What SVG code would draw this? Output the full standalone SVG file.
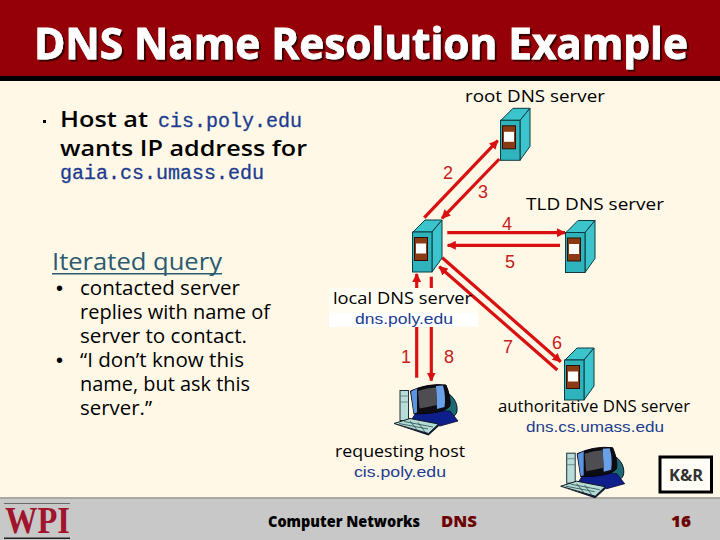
<svg xmlns="http://www.w3.org/2000/svg" width="720" height="540" viewBox="0 0 720 540">
<style>
text{font-family:"Open Sans","Lato","Liberation Sans",sans-serif;fill:#000}
.title{font-size:43px;font-weight:700;fill:#fff;stroke:#fff;stroke-width:.8px}
.lab{font-size:16.500px}
.blue{font-family:"Liberation Sans",sans-serif;font-size:14.500px;fill:#1d3c8f}
.mono{font-family:"Liberation Mono",monospace;font-size:20px;fill:#1d3c8f;stroke:#1d3c8f;stroke-width:.3px}
.body{font-size:22px;font-weight:600}
.list{font-size:19.500px}
.bullet{font-family:"Liberation Sans",sans-serif;font-size:20px}
.num{font-family:"Liberation Sans",sans-serif;font-size:18px;fill:#c62020;text-anchor:middle}
.foot{font-size:16px;font-weight:800}
.conn{stroke:#d81010;stroke-width:3.200;fill:none}
.srv-front{fill:#2fb4bd;stroke:#0d3b40;stroke-width:1}
.srv-side{fill:#3cc4cc;stroke:#0d3b40;stroke-width:1}
</style>
<defs>
<filter id="drop" x="-5%" y="-20%" width="110%" height="140%"><feDropShadow dx="2" dy="2" stdDeviation=".4" flood-color="#3a0004"/></filter>
<marker id="arrow" viewBox="0 0 10 10" refX="9" refY="5" markerUnits="userSpaceOnUse" markerWidth="9" markerHeight="9" orient="auto"><path d="M0 0L10 5L0 10z" fill="#d81010"/></marker>
<g id="server">
<path class="srv-side" d="M13 12L25 0H42L32 12z"/>
<path class="srv-side" d="M32 12L42 0V38L32 52z"/>
<rect class="srv-front" x="12.500" y="12" width="19.500" height="40"/>
<rect x="14.500" y="17.500" width="13" height="23" fill="#8b3a14" stroke="#2a1005" stroke-width="1"/>
<rect x="16" y="23.500" width="10" height="10" fill="#fff"/>
</g>
<g id="computer">
<path d="M443 391C452 394 458 402 457 411C456 417 450 419 444 418L438 412z" fill="#1c6a72" stroke="#0b1226"/>
<path d="M417 411H450L458 421L440 426L412 419z" fill="#0e1f8c" stroke="#07072e" stroke-width=".8"/>
<rect x="400" y="390.500" width="8.500" height="30" fill="#b8dcd8" stroke="#20303a"/>
<path d="M400 396H408.500M400 402H408.500" stroke="#607878" stroke-width=".8"/>
<path d="M410.500 391Q428 383 446 385Q451 397 450 406Q444 414 414 414z" fill="#0c0c12" stroke="#050510"/>
<path d="M411 391.500L417 388.500V412.500L414 413.500z" fill="#5b94e0"/>
<path d="M436 386L443 385.500Q446 396 444.500 407L437 409z" fill="#6aa0e8"/>
<path d="M418 391Q427 387.500 436 387.500L437 405Q427 407 419.500 408.500z" fill="#4d4d52"/>
<path d="M394 423.500L410 418.500L438.500 424L428.500 433.500z" fill="#b4dcd4" stroke="#101820"/>
<path d="M399 423.500L428 429M404 421.500L433 427M410 421L418 431M418 422.500L425 432" stroke="#2a4a50" stroke-width=".8" fill="none"/>
<path d="M428.500 433.500L438.500 424V426.500L428.500 435.500L394 424z" fill="#101830"/>
</g>
</defs>
<rect id="background" width="720" height="540" fill="#fff8e7"/>
<g id="header">
<rect width="720" height="76" fill="#950008"/>
<rect y="76" width="720" height="5" fill="#000"/>
<text class="title" x="34" y="59" textLength="654" lengthAdjust="spacingAndGlyphs" filter="url(#drop)">DNS Name Resolution Example</text>
</g>
<g id="footer">
<rect y="497" width="720" height="43" fill="#c8c8c8"/>
<rect y="497" width="720" height="2" fill="#aaa8a0"/>
<rect x="4" y="503" width="66" height="1" fill="#6a6a6a"/>
<rect x="4" y="537.500" width="66" height="1.500" fill="#222"/>
<text x="5" y="533" textLength="65" lengthAdjust="spacingAndGlyphs" style="font-family:'Liberation Serif',serif;font-size:37px;font-weight:700;fill:#a0142e">WPI</text>
<text class="foot" x="268" y="527" textLength="152" lengthAdjust="spacingAndGlyphs">Computer Networks</text>
<text class="foot" x="441" y="527" textLength="36" lengthAdjust="spacingAndGlyphs" style="fill:#6c0000">DNS</text>
<text class="foot" x="671" y="527" textLength="20" lengthAdjust="spacingAndGlyphs" style="fill:#6c0000">16</text>
</g>
<g id="intro">
<rect x="43" y="120" width="3" height="3" fill="#000"/>
<text class="body" x="60" y="127" textLength="88" lengthAdjust="spacingAndGlyphs">Host at</text>
<text class="mono" x="158" y="127">cis.poly.edu</text>
<text class="body" x="60" y="156" textLength="247" lengthAdjust="spacingAndGlyphs">wants IP address for</text>
<text class="mono" x="60" y="179">gaia.cs.umass.edu</text>
</g>
<g id="iterated">
<text x="52" y="270" textLength="170" lengthAdjust="spacingAndGlyphs" style="font-size:24px;fill:#2a5a70">Iterated query</text>
<rect x="52" y="273" width="170" height="1.500" fill="#2a5a70"/>
<text class="bullet" x="56" y="295">•</text>
<text class="list" x="80" y="295" textLength="160" lengthAdjust="spacingAndGlyphs">contacted server</text>
<text class="list" x="80" y="319" textLength="190" lengthAdjust="spacingAndGlyphs">replies with name of</text>
<text class="list" x="80" y="343" textLength="167" lengthAdjust="spacingAndGlyphs">server to contact.</text>
<text class="bullet" x="56" y="367">•</text>
<text class="list" x="80" y="367" textLength="164" lengthAdjust="spacingAndGlyphs">“I don’t know this</text>
<text class="list" x="80" y="391" textLength="170" lengthAdjust="spacingAndGlyphs">name, but ask this</text>
<text class="list" x="80" y="415" textLength="72" lengthAdjust="spacingAndGlyphs">server.”</text>
</g>
<rect id="local-label-top" x="329" y="288" width="149" height="25" fill="#fffcf2"/>
<rect id="local-label-bottom" x="329" y="313" width="149" height="14" fill="#fff"/>
<g id="connectors">
<path class="conn" d="M424.300 217.700L497.700 140.700" marker-end="url(#arrow)"/>
<path class="conn" d="M499.300 159L442 218.300" marker-end="url(#arrow)"/>
<path class="conn" d="M447.300 232.700H565" marker-end="url(#arrow)"/>
<path class="conn" d="M560 245.300H447.700" marker-end="url(#arrow)"/>
<path class="conn" d="M442.300 257.700L560.700 361.700" marker-end="url(#arrow)"/>
<path class="conn" d="M557.300 370L439.300 266.700" marker-end="url(#arrow)"/>
<path class="conn" d="M416.700 377.700V327"/>
<path class="conn" d="M416.700 288V274" marker-end="url(#arrow)"/>
<path class="conn" d="M431.300 276.700V288"/>
<path class="conn" d="M431.300 327V380.700" marker-end="url(#arrow)"/>
<text class="num" x="448" y="179">2</text>
<text class="num" x="483" y="198">3</text>
<text class="num" x="507" y="230">4</text>
<text class="num" x="510" y="268">5</text>
<text class="num" x="557" y="349">6</text>
<text class="num" x="508" y="353">7</text>
<text class="num" x="406" y="363">1</text>
<text class="num" x="449" y="363">8</text>
</g>
<g id="root-server">
<use href="#server" x="488" y="108.300"/>
<text class="lab" x="465" y="102" textLength="140" lengthAdjust="spacingAndGlyphs">root DNS server</text>
</g>
<g id="tld-server">
<use href="#server" x="553" y="220.500"/>
<text class="lab" x="526" y="210" textLength="138" lengthAdjust="spacingAndGlyphs">TLD DNS server</text>
</g>
<g id="local-server">
<use href="#server" x="400" y="220"/>
<text class="lab" x="333" y="304" textLength="139" lengthAdjust="spacingAndGlyphs">local DNS server</text>
<text class="blue" x="355" y="324" textLength="98" lengthAdjust="spacingAndGlyphs">dns.poly.edu</text>
</g>
<g id="authoritative-server">
<use href="#server" x="552" y="348"/>
<text class="lab" x="498" y="412" textLength="192" lengthAdjust="spacingAndGlyphs">authoritative DNS server</text>
<text class="blue" x="526" y="432" textLength="138" lengthAdjust="spacingAndGlyphs">dns.cs.umass.edu</text>
</g>
<g id="requesting-host">
<use href="#computer"/>
<text class="lab" x="335" y="457" textLength="130" lengthAdjust="spacingAndGlyphs">requesting host</text>
<text class="blue" x="354" y="477" textLength="92" lengthAdjust="spacingAndGlyphs">cis.poly.edu</text>
</g>
<g id="target-host">
<use href="#computer" x="166.700" y="62.700"/>
</g>
<g id="kr">
<rect x="660" y="457" width="51.500" height="35" fill="#fffdf5" stroke="#000" stroke-width="3"/>
<text x="669" y="481" textLength="34" lengthAdjust="spacingAndGlyphs" style="font-size:16px;font-weight:700;fill:#333">K&amp;R</text>
</g>
</svg>
